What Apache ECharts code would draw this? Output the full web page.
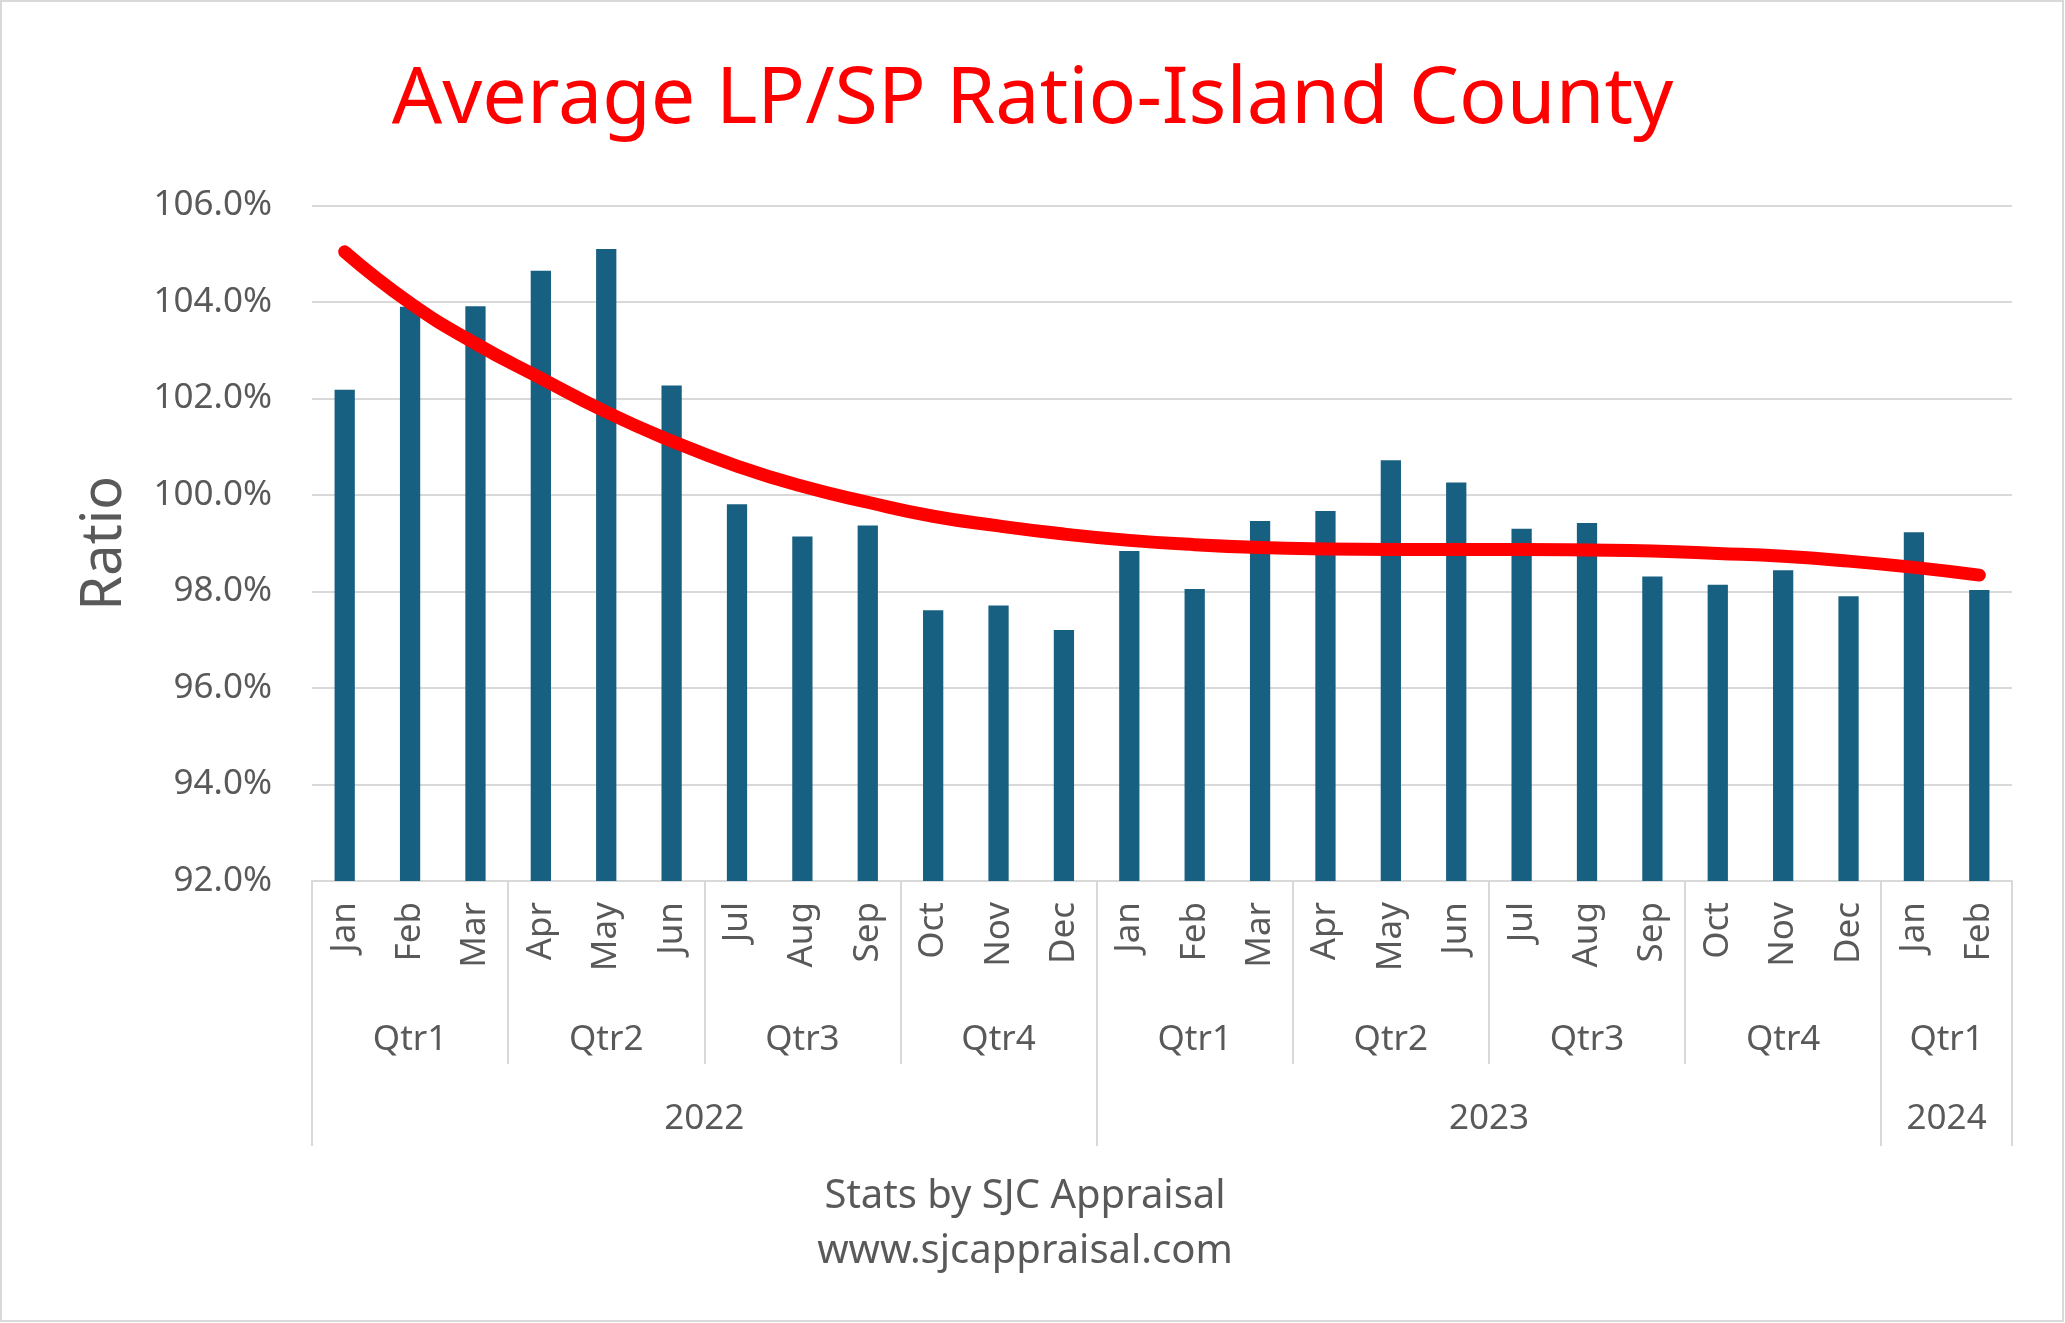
<!DOCTYPE html>
<html>
<head>
<meta charset="utf-8">
<script src="https://cdn.jsdelivr.net/npm/echarts@6/dist/echarts.min.js"></script>
<style>
html,body{margin:0;padding:0;background:#fff;}
#chart{width:2065px;height:1323px;}
</style>
</head>
<body>
<div id="chart"></div>
<script>
const months = ['Jan','Feb','Mar','Apr','May','Jun','Jul','Aug','Sep','Oct','Nov','Dec','Jan','Feb','Mar','Apr','May','Jun','Jul','Aug','Sep','Oct','Nov','Dec','Jan','Feb'];
const ratios = [102.18,103.9,103.91,104.65,105.1,102.27,99.81,99.14,99.37,97.61,97.71,97.2,98.84,98.05,99.46,99.67,100.72,100.26,99.3,99.42,98.31,98.14,98.44,97.9,99.23,98.03];
const trend = [105.04,103.98,103.14,102.42,101.72,101.12,100.6,100.18,99.85,99.56,99.36,99.19,99.06,98.97,98.91,98.88,98.87,98.87,98.87,98.86,98.84,98.79,98.73,98.63,98.5,98.34];
const quarterLabels = ['Qtr1','Qtr2','Qtr3','Qtr4','Qtr1','Qtr2','Qtr3','Qtr4','Qtr1'];
const quarterSpans = [3,3,3,3,3,3,3,3,2];
const yearLabels = ['2022','2023','2024'];
const yearSpans = [12,12,2];
const yTicks = {min: 92, max: 106, step: 2};

const FONT = 'Noto Sans';
const GREY = '#595959';
const LINE = '#d9d9d9';

// Helper axis: points at every half-month boundary (boundaryGap false)
function groupAxis(labels, spans) {
  const n = months.length * 2 + 1;
  const data = new Array(n).fill('');
  const bounds = new Set();
  let pos = 0;
  labels.forEach((lab, i) => {
    bounds.add(2 * pos);
    data[2 * pos + spans[i]] = lab;
    pos += spans[i];
    bounds.add(2 * pos);
  });
  return {data, bounds};
}
const qAxis = groupAxis(quarterLabels, quarterSpans);
const yAxisGroups = groupAxis(yearLabels, yearSpans);

function helperAxis(g, tickLen, margin) {
  return {
    type: 'category', position: 'bottom', gridIndex: 0, boundaryGap: false,
    data: g.data,
    axisLine: {show: false},
    axisTick: {show: true, length: tickLen, interval: (idx) => g.bounds.has(idx),
      lineStyle: {color: LINE, width: 2}},
    axisLabel: {interval: 0, margin: margin, fontFamily: FONT, fontSize: 35, color: GREY},
    splitLine: {show: false}
  };
}

const chart = echarts.init(document.getElementById('chart'), null, {renderer: 'canvas'});
chart.setOption({
  backgroundColor: '#fff',
  animation: false,
  title: {
    text: 'Average LP/SP Ratio-Island County',
    left: 'center', top: 56,
    textStyle: {fontFamily: FONT, fontSize: 79, fontWeight: 'normal', color: '#ff0000'}
  },
  graphic: [
    {type: 'rect', silent: true, shape: {x: 1, y: 1, width: 2062, height: 1320},
      style: {fill: 'none', stroke: LINE, lineWidth: 2}},
    {type: 'text', silent: true, x: 1025, y: 1197,
      style: {text: 'Stats by SJC Appraisal', fontFamily: FONT, fontSize: 40, fill: GREY,
        textAlign: 'center', textVerticalAlign: 'middle'}},
    {type: 'text', silent: true, x: 1025, y: 1252,
      style: {text: 'www.sjcappraisal.com', fontFamily: FONT, fontSize: 40, fill: GREY,
        textAlign: 'center', textVerticalAlign: 'middle'}}
  ],
  grid: {left: 312, right: 53, top: 205.5, bottom: 442, containLabel: false},
  xAxis: [
    {
      type: 'category', position: 'bottom', data: months, boundaryGap: true,
      axisLine: {show: true, onZero: false, lineStyle: {color: LINE, width: 2}},
      axisTick: {show: false},
      axisLabel: {interval: 0, rotate: 90, margin: 21, fontFamily: FONT, fontSize: 35, color: GREY},
      splitLine: {show: false}
    },
    helperAxis(qAxis, 183, 142),
    helperAxis(yAxisGroups, 265, 221)
  ],
  yAxis: {
    type: 'value', min: yTicks.min, max: yTicks.max, interval: yTicks.step,
    name: 'Ratio', nameLocation: 'middle', nameGap: 179,
    nameTextStyle: {fontFamily: FONT, fontSize: 56, color: GREY},
    axisLine: {show: false}, axisTick: {show: false},
    axisLabel: {margin: 40, fontFamily: FONT, fontSize: 35, color: GREY,
      formatter: (v) => v.toFixed(1) + '%'},
    splitLine: {lineStyle: {color: LINE, width: 2}}
  },
  series: [
    {type: 'bar', xAxisIndex: 0, data: ratios, barWidth: '31%',
      itemStyle: {color: '#176081'}, z: 2},
    {type: 'line', xAxisIndex: 0, data: trend, smooth: true, symbol: 'none',
      lineStyle: {color: '#ff0000', width: 13, cap: 'round', join: 'round'}, z: 5}
  ]
});
</script>
</body>
</html>
